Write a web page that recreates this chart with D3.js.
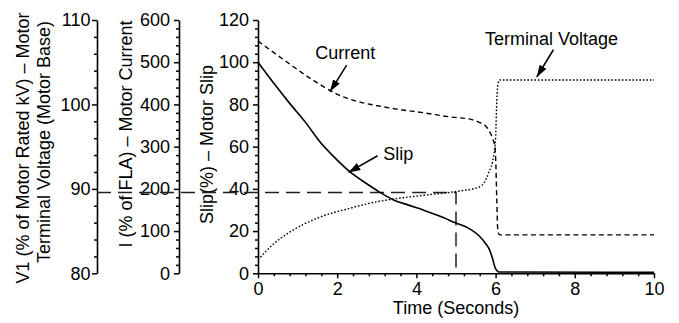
<!DOCTYPE html>
<html><head><meta charset="utf-8">
<script src="https://cdn.jsdelivr.net/npm/d3@7"></script>
<style>
html,body{margin:0;padding:0;background:#fff;}
svg{display:block;font-family:"Liberation Sans",Arial,sans-serif;}
</style></head>
<body><svg id="c" width="679" height="323"></svg>
<script>
// ---- data ----
const xTicks = [0,2,4,6,8,10];
const slipTicks = [0,20,40,60,80,100,120];
const currentTicks = [0,100,200,300,400,500,600];
const voltTicks = [80,90,100,110];

const slipTime = [0,0.4,0.8,1.2,1.6,1.9,2.3,2.7,3.05,3.4,3.8,4.2,4.6,5.0,5.3,5.6,5.75,5.85,5.93,5.98,6.03,6.08,10];
const slipVal  = [100,90,80.5,71.5,61.5,55.5,48.4,43,38.7,35,32.3,29.8,27,23.8,21.5,17.4,14,11,6.5,3.1,1.3,0.6,0.5];

const curTime = [0,0.65,1.3,1.55,1.8,2.05,2.3,2.6,2.9,3.5,4.2,4.8,5.4,5.6,5.75,5.85,5.93,5.98,6.0,6.03,6.05,6.08,6.12,10];
const curVal  = [550,506,463,448,434,422,413,405,399,389,380,371,364,357,349,335,318,300,275,175,110,93,91,91];

const voltTime = [0,0.4,0.81,1.48,2.32,3.03,3.42,4.2,5.02,5.6,5.82,5.96,6.0,6.03,6.06,6.1,10];
const voltVal  = [81.6,83.5,84.9,86.5,87.7,88.5,88.8,89.25,89.7,90.25,91.85,94.2,96,100.5,102.4,102.9,102.9];

const refTime = 5;       // seconds
const refSlip = 38.3;    // slip % level of reference line

// ---- layout ----
const svg = d3.select("#c");
const font = 18;
const X0 = 258, X1 = 654, Y0 = 273.3, Y1 = 20;
const axVoltX = 97, axCurX = 179;

const x = d3.scaleLinear().domain([0,10]).range([X0,X1]);
const ySlip = d3.scaleLinear().domain([0,120]).range([Y0,Y1]);
const yCur = d3.scaleLinear().domain([0,600]).range([Y0,Y1]);
const yVolt = d3.scaleLinear().domain([80,110]).range([Y0,Y1]);

function styleAxis(g){
  g.selectAll("path.domain").attr("stroke","#000").attr("stroke-width",1.6);
  g.selectAll(".tick line").attr("stroke","#000").attr("stroke-width",1.5);
  g.selectAll("text").attr("font-size",font).attr("fill","#000").attr("font-family","Liberation Sans, Arial, sans-serif");
}
function yAxis(scale, ticks, minorStep, xpos, pad){
  const d = scale.domain();
  const minor = d3.range(d[0], d[1]+1e-9, minorStep).filter(v=>!ticks.some(t=>Math.abs(t-v)<1e-9));
  svg.append("g").attr("transform",`translate(${xpos},0)`)
    .call(d3.axisLeft(scale).tickValues(minor).tickSize(3).tickSizeOuter(0).tickFormat(""))
    .call(g=>g.select("path.domain").remove())
    .call(styleAxis);
  svg.append("g").attr("transform",`translate(${xpos},0)`)
    .call(d3.axisLeft(scale).tickValues(ticks).tickSize(5).tickSizeOuter(0).tickPadding(pad).tickFormat(d3.format("d")))
    .call(styleAxis);
}
yAxis(yVolt, voltTicks, 2, axVoltX, 1.5);
yAxis(yCur, currentTicks, 20, axCurX, 4);
yAxis(ySlip, slipTicks, 4, X0, 4);

// x axis
{
  const minor = d3.range(0,10.0001,0.4).filter(v=>!xTicks.some(t=>Math.abs(t-v)<1e-6));
  svg.append("g").attr("transform",`translate(0,${Y0})`)
    .call(d3.axisBottom(x).tickValues(minor).tickSize(3).tickSizeOuter(0).tickFormat(""))
    .call(g=>g.select("path.domain").remove())
    .call(styleAxis);
  svg.append("g").attr("transform",`translate(0,${Y0})`)
    .call(d3.axisBottom(x).tickValues(xTicks).tickSize(5).tickSizeOuter(0).tickPadding(4).tickFormat(d3.format("d")))
    .call(styleAxis);
}

// axis titles
function vtitle(txt, bx, cy){
  svg.append("text").attr("transform",`translate(${bx},${cy}) rotate(-90)`)
    .attr("text-anchor","middle").attr("font-size",font).attr("fill","#000").text(txt);
}
vtitle("V1 (% of Motor Rated kV) \u2013 Motor", 28.5, 148);
vtitle("Terminal Voltage (Motor Base)", 50, 142);
vtitle("I (% of FLA) \u2013 Motor Current", 131.5, 134);
vtitle("Slip(%) \u2013 Motor Slip", 213, 144.5);
svg.append("text").attr("x",(X0+X1)/2).attr("y",314).attr("text-anchor","middle")
  .attr("font-size",font).attr("fill","#000").text("Time (Seconds)");

// reference dashed line
svg.append("path")
  .attr("d",`M${axVoltX},${ySlip(refSlip)}H${x(refTime)}V${ySlip(2)}`)
  .attr("fill","none").attr("stroke","#222").attr("stroke-width",1.5)
  .attr("stroke-dasharray","14,7");

// curves
const curve = d3.curveMonotoneX;
const lineSlip = d3.line().x((d,i)=>x(slipTime[i])).y(d=>ySlip(d)).curve(curve);
const lineCur = d3.line().x((d,i)=>x(curTime[i])).y(d=>yCur(d)).curve(curve);
const lineVolt = d3.line().x((d,i)=>x(voltTime[i])).y(d=>yVolt(d)).curve(curve);

svg.append("path").attr("d",lineCur(curVal)).attr("fill","none").attr("stroke","#000")
  .attr("stroke-width",1.4).attr("stroke-dasharray","5,3.5");
svg.append("path").attr("d",lineVolt(voltVal)).attr("fill","none").attr("stroke","#000")
  .attr("stroke-width",1.4).attr("stroke-dasharray","1.6,1.9");
svg.append("path").attr("d",lineSlip(slipVal)).attr("fill","none").attr("stroke","#000")
  .attr("stroke-width",1.6);

// annotations (data coordinates on the slip scale)
const annotations = [
  {label:"Current", tx:1.445, ty:101.5, from:[2.24,98.6], to:[1.82,86.1]},
  {label:"Terminal Voltage", tx:5.73, ty:108.3, from:[7.46,105.9], to:[7.04,93]},
  {label:"Slip", tx:3.16, ty:53.7, from:[3.02,55.7], to:[2.285,47.8]}
];
svg.append("defs").append("marker").attr("id","ah")
  .attr("viewBox","0 0 12 8").attr("refX",12).attr("refY",4)
  .attr("markerWidth",12).attr("markerHeight",8).attr("markerUnits","userSpaceOnUse")
  .attr("orient","auto")
  .append("path").attr("d","M0,0L12,4L0,8Z").attr("fill","#000");
annotations.forEach(a=>{
  svg.append("text").attr("x",x(a.tx)).attr("y",ySlip(a.ty)).attr("font-size",font)
    .attr("fill","#000").text(a.label);
  svg.append("line").attr("x1",x(a.from[0])).attr("y1",ySlip(a.from[1]))
    .attr("x2",x(a.to[0])).attr("y2",ySlip(a.to[1]))
    .attr("stroke","#000").attr("stroke-width",1.5).attr("marker-end","url(#ah)");
});
</script></body></html>
